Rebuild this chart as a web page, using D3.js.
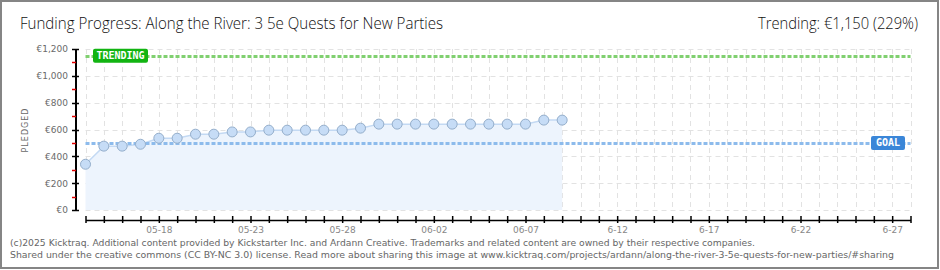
<!DOCTYPE html>
<html>
<head>
<meta charset="utf-8">
<script src="https://cdn.jsdelivr.net/npm/d3@7"></script>
<style>
  body { margin: 0; background: #fff; }
  svg { display: block; }
</style>
</head>
<body>
<script>
// data
var dates = ["2025-05-14","2025-05-15","2025-05-16","2025-05-17","2025-05-18","2025-05-19","2025-05-20",
  "2025-05-21","2025-05-22","2025-05-23","2025-05-24","2025-05-25","2025-05-26","2025-05-27","2025-05-28",
  "2025-05-29","2025-05-30","2025-05-31","2025-06-01","2025-06-02","2025-06-03","2025-06-04","2025-06-05",
  "2025-06-06","2025-06-07","2025-06-08","2025-06-09"];
var pledged = [341, 476, 476, 490, 535, 535, 565, 565, 582, 582, 595, 595, 595, 595, 595,
  610, 640, 640, 640, 640, 640, 640, 640, 640, 640, 670, 670];
var goal = 500;
var trending = 1150;
var yTicks = [0, 200, 400, 600, 800, 1000, 1200];
var yMinorTicks = [100, 300, 500, 700, 900, 1100];
var xTickDates = ["2025-05-18","2025-05-23","2025-05-28","2025-06-02","2025-06-07","2025-06-12","2025-06-17","2025-06-22","2025-06-27"];
var xTickLabels = ["05-18","05-23","05-28","06-02","06-07","6-12","6-17","6-22","6-27"];
var xStart = "2025-05-14", xEnd = "2025-06-28";

var width = 940, height = 270;
var parseTime = d3.utcParse("%Y-%m-%d");

var dataset = dates.map(function (d, i) {
  return { x: parseTime(d), y: pledged[i] };
});

var x = d3.scaleUtc().domain([parseTime(xStart), parseTime(xEnd)]).range([85.5, 910.5]);
var y = d3.scaleLinear().domain([0, 1200]).range([210, 49]);

var svg = d3.select("body").append("svg")
  .attr("width", width)
  .attr("height", height);

// frame
svg.append("rect")
  .attr("x", 1).attr("y", 1)
  .attr("width", 937).attr("height", 267)
  .attr("fill", "#fff")
  .attr("stroke", "#858585")
  .attr("stroke-width", 2);

// title
svg.append("text")
  .attr("x", 20).attr("y", 29)
  .attr("font-family", "Open Sans, DejaVu Sans")
  .attr("font-weight", 300)
  .attr("font-size", 16)
  .attr("fill", "#111")
  .attr("textLength", 423)
  .attr("lengthAdjust", "spacingAndGlyphs")
  .text("Funding Progress: Along the River: 3 5e Quests for New Parties");

svg.append("text")
  .attr("x", 918).attr("y", 29)
  .attr("text-anchor", "end")
  .attr("font-family", "Open Sans, DejaVu Sans")
  .attr("font-weight", 300)
  .attr("font-size", 16)
  .attr("fill", "#111")
  .attr("textLength", 160)
  .attr("lengthAdjust", "spacingAndGlyphs")
  .text("Trending: \u20ac1,150 (229%)");

// grid
var allDays = d3.utcDay.range(parseTime(xStart), d3.utcDay.offset(parseTime(xEnd), 1));
var grid = svg.append("g").attr("stroke", "#e2e2e2").attr("stroke-dasharray", "5,4");
grid.selectAll("line.v").data(allDays).enter().append("line")
  .attr("class", "v")
  .attr("x1", function (d) { return Math.round(x(d)) + 0.5; })
  .attr("x2", function (d) { return Math.round(x(d)) + 0.5; })
  .attr("y1", y(1200)).attr("y2", y(0));
grid.selectAll("line.h").data(yTicks).enter().append("line")
  .attr("class", "h")
  .attr("x1", x(parseTime(xStart))).attr("x2", x(parseTime(xEnd)))
  .attr("y1", function (d) { return Math.round(y(d)) + 0.5; })
  .attr("y2", function (d) { return Math.round(y(d)) + 0.5; });

// area + line
var area = d3.area()
  .x(function (d) { return x(d.x); })
  .y0(y(0))
  .y1(function (d) { return y(d.y); });
svg.append("path").datum(dataset)
  .attr("d", area)
  .attr("fill", "#edf4fd");

var valueline = d3.line()
  .x(function (d) { return x(d.x); })
  .y(function (d) { return y(d.y); });
svg.append("path").datum(dataset)
  .attr("d", valueline)
  .attr("fill", "none")
  .attr("stroke", "#c3d9f3")
  .attr("stroke-width", 1.5);

// goal / trending lines
svg.append("line")
  .attr("x1", x(parseTime(xStart))).attr("x2", x(parseTime(xEnd)))
  .attr("y1", Math.round(y(goal)) + 0.5).attr("y2", Math.round(y(goal)) + 0.5)
  .attr("stroke", "#8dbbec").attr("stroke-width", 3).attr("stroke-dasharray", "4,2");
svg.append("line")
  .attr("x1", x(parseTime(xStart))).attr("x2", x(parseTime(xEnd)))
  .attr("y1", Math.round(y(trending)) + 0.5).attr("y2", Math.round(y(trending)) + 0.5)
  .attr("stroke", "#80d070").attr("stroke-width", 3).attr("stroke-dasharray", "4,2");

// points
svg.selectAll("circle.pt").data(dataset).enter().append("circle")
  .attr("class", "pt")
  .attr("cx", function (d) { return x(d.x); })
  .attr("cy", function (d) { return y(d.y); })
  .attr("r", 5)
  .attr("fill", "#c6dcf6")
  .attr("stroke", "#94aecb")
  .attr("stroke-width", 1);

// labels
var badge = function (cx, cy, w, label, color) {
  var g = svg.append("g");
  g.append("rect")
    .attr("x", cx).attr("y", cy - 7)
    .attr("width", w).attr("height", 14)
    .attr("rx", 2)
    .attr("fill", color);
  g.append("text")
    .attr("x", cx + w / 2).attr("y", cy + 3.5)
    .attr("text-anchor", "middle")
    .attr("font-family", "DejaVu Sans Mono, DejaVu Sans")
    .attr("font-size", 10)
    .attr("font-weight", "bold")
    .attr("fill", "#fff")
    .text(label);
};
badge(93, y(trending), 55, "TRENDING", "#12b412");
badge(871, y(goal), 34, "GOAL", "#3a86d8");

// y axis
var yAxisG = svg.append("g").attr("transform", "translate(76,0)");
yAxisG.call(d3.axisLeft(y).tickValues(yTicks).tickSize(0)
  .tickFormat(function (d) { return "\u20ac" + d3.format(",")(d); }));
yAxisG.select(".domain").attr("stroke", "#000").attr("stroke-width", 2).attr("d", "M0," + y(1200) + "V" + y(0));
yAxisG.selectAll(".tick text")
  .attr("x", -8)
  .attr("font-family", "DejaVu Sans")
  .attr("font-size", 9)
  .attr("fill", "#6a6a6a");
yAxisG.selectAll("line.major").data(yTicks).enter().append("line")
  .attr("class", "major")
  .attr("x1", -4).attr("x2", 3)
  .attr("y1", function (d) { return Math.round(y(d)) + 0.5; })
  .attr("y2", function (d) { return Math.round(y(d)) + 0.5; })
  .attr("stroke", "#000").attr("stroke-width", 1.5);
yAxisG.selectAll("line.minor").data(yMinorTicks).enter().append("line")
  .attr("class", "minor")
  .attr("x1", -4).attr("x2", 0)
  .attr("y1", function (d) { return Math.round(y(d)) + 0.5; })
  .attr("y2", function (d) { return Math.round(y(d)) + 0.5; })
  .attr("stroke", "#e00000").attr("stroke-width", 1.5);

svg.append("text")
  .attr("transform", "translate(28,130) rotate(-90)")
  .attr("text-anchor", "middle")
  .attr("font-family", "DejaVu Sans")
  .attr("font-size", 8)
  .attr("letter-spacing", 1)
  .attr("fill", "#6a6a6a")
  .text("PLEDGED");

// x axis
var labelFor = {};
xTickDates.forEach(function (d, i) { labelFor[d] = xTickLabels[i]; });
var fmt = d3.utcFormat("%Y-%m-%d");
var xAxisG = svg.append("g").attr("transform", "translate(0,220)");
xAxisG.call(d3.axisBottom(x).tickValues(allDays).tickSizeInner(3).tickSizeOuter(0)
  .tickFormat(function (d) { return labelFor[fmt(d)] || ""; }));
xAxisG.select(".domain").attr("stroke", "#000").attr("stroke-width", 1.5);
xAxisG.selectAll(".tick line").attr("y1", -4).attr("y2", 3).attr("stroke", "#000").attr("stroke-width", 1.5);
xAxisG.selectAll(".tick text")
  .attr("y", 7)
  .attr("font-family", "DejaVu Sans")
  .attr("font-size", 9)
  .attr("fill", "#888");

// footer
var footer = [
  { t: "(c)2025 Kicktraq. Additional content provided by Kickstarter Inc. and Ardann Creative. Trademarks and related content are owned by their respective companies.", w: 745, yy: 246 },
  { t: "Shared under the creative commons (CC BY-NC 3.0) license. Read more about sharing this image at www.kicktraq.com/projects/ardann/along-the-river-3-5e-quests-for-new-parties/#sharing", w: 884, yy: 258 }
];
svg.selectAll("text.foot").data(footer).enter().append("text")
  .attr("class", "foot")
  .attr("x", 10)
  .attr("y", function (d) { return d.yy; })
  .attr("font-family", "DejaVu Sans")
  .attr("font-size", 9.5)
  .attr("fill", "#666")
  .attr("textLength", function (d) { return d.w; })
  .attr("lengthAdjust", "spacingAndGlyphs")
  .text(function (d) { return d.t; });
</script>
</body>
</html>
